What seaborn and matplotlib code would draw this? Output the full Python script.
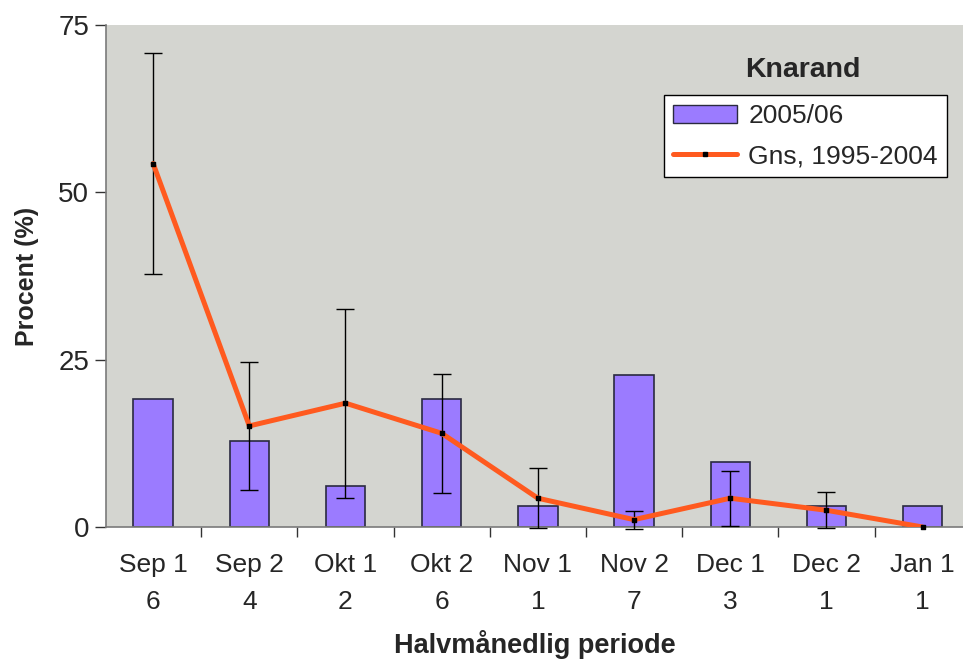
import matplotlib
matplotlib.use("Agg")
import matplotlib.pyplot as plt
import seaborn as sns
import numpy as np
import pandas as pd
from matplotlib.lines import Line2D
from matplotlib.patches import Patch

periods = ["Sep 1", "Sep 2", "Okt 1", "Okt 2", "Nov 1", "Nov 2", "Dec 1", "Dec 2", "Jan 1"]
counts = ["6", "4", "2", "6", "1", "7", "3", "1", "1"]
season_0506 = [19.1, 12.9, 6.1, 19.1, 3.1, 22.7, 9.7, 3.1, 3.1]
avg_9504 = [54.3, 15.1, 18.5, 14.0, 4.3, 1.1, 4.3, 2.5, 0.0]
avg_err = [16.5, 9.5, 14.1, 8.9, 4.5, 1.35, 4.1, 2.7, 0.0]

sns.set_style("white")
plt.rcParams['font.family'] = ['Liberation Sans', 'DejaVu Sans']

df = pd.DataFrame({"periode": periods, "season": season_0506, "avg": avg_9504, "err": avg_err})

fig = plt.figure(figsize=(9.63, 6.61), dpi=100)
ax = fig.add_axes([106/963, 134/661, 1 - 106/963, (527-25)/661])
ax.set_facecolor("#D4D5D0")

sns.barplot(data=df, x="periode", y="season", ax=ax, color="#9B7BFF",
            width=0.41, edgecolor="#2a2a40", linewidth=1.2, saturation=1, zorder=2)

xpos = np.arange(len(periods))
mask = df["err"] > 0
ax.errorbar(xpos[mask], df["avg"][mask], yerr=df["err"][mask], fmt="none",
            ecolor="black", elinewidth=1.0, capsize=6.5, capthick=1.0, zorder=3, clip_on=False)

sns.lineplot(data=df, x="periode", y="avg", ax=ax, color="#FF5A1F", linewidth=3.6,
             sort=False, zorder=4)
ax.scatter(xpos, df["avg"], marker="s", s=12, color="black", zorder=5, clip_on=False)

ax.set_xlim(-0.49, 8.42)
ax.set_ylim(0, 75)
ax.set_yticks([0, 25, 50, 75])
ax.set_xticks(xpos)
ax.set_xticklabels([f"{p}\n{c}" for p, c in zip(periods, counts)], fontsize=19, linespacing=1.65)
ax.set_xticks(np.arange(len(periods) - 1) + 0.5, minor=True)
ax.tick_params(axis="x", which="major", length=0, pad=19)
ax.tick_params(axis="x", which="minor", length=7, width=1, color="#333333", direction="out", bottom=True)
ax.tick_params(axis="y", length=8, width=1, color="#333333", direction="out", labelsize=20, left=True, pad=4)

for s in ["top", "right"]:
    ax.spines[s].set_visible(False)
for s in ["left", "bottom"]:
    ax.spines[s].set_color("#7a7a7a")
    ax.spines[s].set_linewidth(1.2)

ax.set_xlabel("Halvmånedlig periode", fontsize=19.5, fontweight="bold", labelpad=12)
ax.set_ylabel("Procent (%)", fontsize=18, fontweight="bold", labelpad=14)

handles = [Patch(facecolor="#9B7BFF", edgecolor="#2a2a40", linewidth=1.0),
           Line2D([0], [0], color="#FF5A1F", linewidth=3.6, marker="s", markersize=3,
                  markerfacecolor="black", markeredgecolor="black")]
leg = ax.legend(handles, ["2005/06", "Gns, 1995-2004"], loc="upper left",
                bbox_to_anchor=((664-106)/857, (527-95)/502), fontsize=19,
                frameon=True, fancybox=False, edgecolor="black", framealpha=1,
                handlelength=2.4, handleheight=0.7, borderpad=0.35, labelspacing=0.6,
                handletextpad=0.45, borderaxespad=0)
leg.get_frame().set_linewidth(1.0)
ax.text((803-106)/857, (527-70)/502, "Knarand", transform=ax.transAxes,
        ha="center", va="center", fontsize=20.5, fontweight="bold")

fig.savefig("out.png", dpi=100)
